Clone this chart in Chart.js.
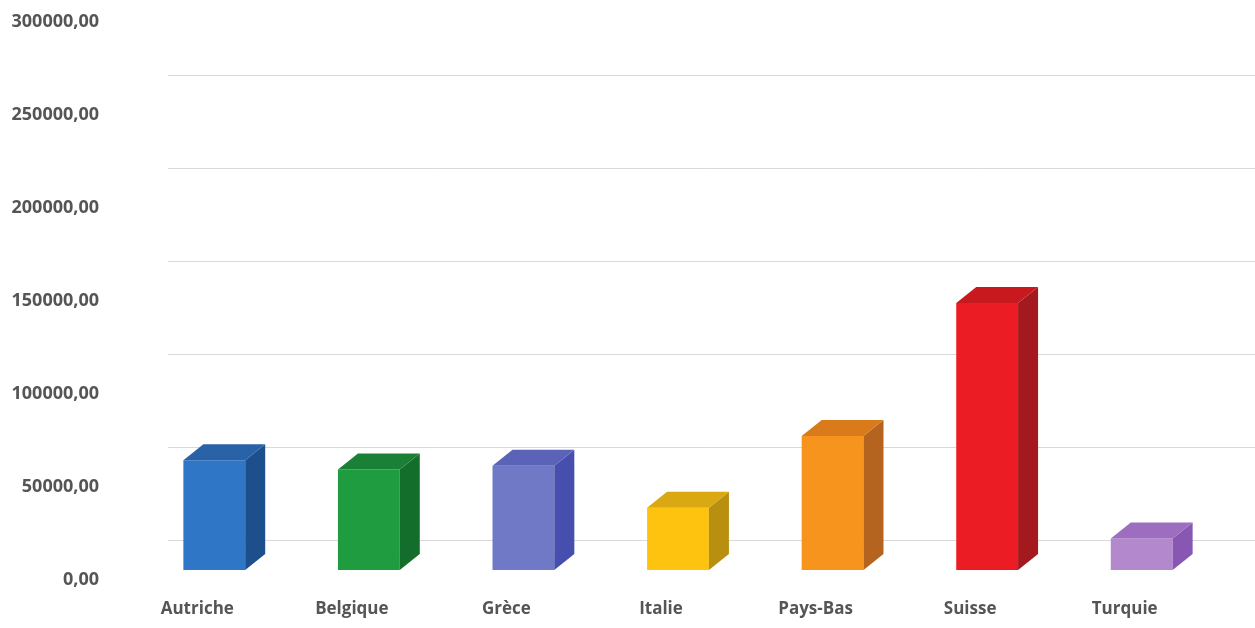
<!DOCTYPE html>
<html>
<head>
<meta charset="utf-8">
<script src="https://cdn.jsdelivr.net/npm/chart.js@4.4.1/dist/chart.umd.min.js"></script>
<style>
    body { margin: 0; background: #ffffff; }
    #wrap { width: 1255px; height: 628px; }
</style>
</head>
<body>
<div id="wrap"><canvas id="myChart" width="1255" height="628"></canvas></div>
<script>
const categories = ["Autriche", "Belgique", "Grèce", "Italie", "Pays-Bas", "Suisse", "Turquie"];
const values = [59000, 54000, 56000, 33500, 72000, 143500, 17000];
const yTicks = [0, 50000, 100000, 150000, 200000, 250000, 300000];

const frontColors = ["#2f76c6", "#1f9c40", "#6f79c6", "#fdc30f", "#f7941d", "#ec1c24", "#b488cc"];
const topColors = ["#2a62a8", "#1a8036", "#5a63b8", "#d9a812", "#d97a1b", "#c8191f", "#9d6dc0"];
const sideColors = ["#1d4f8d", "#136d2b", "#464fae", "#b98f10", "#b4641e", "#a3191e", "#8857b4"];

const DX = 20;
const DY = -16;
const GRID_SHIFT = -30;

function fmt(v) {
    return v.toFixed(2).replace(".", ",");
}

// back wall grid lines, drawn behind the bars
const backGrid = {
    id: "backGrid",
    beforeDatasetsDraw(chart) {
        const ctx = chart.ctx;
        const y = chart.scales.y;
        ctx.save();
        ctx.strokeStyle = "#d9d9d9";
        ctx.lineWidth = 1;
        yTicks.forEach((v) => {
            const py = Math.round(y.getPixelForValue(v) + GRID_SHIFT) + 0.5;
            if (py < 0) return;
            ctx.beginPath();
            ctx.moveTo(168, py);
            ctx.lineTo(chart.width, py);
            ctx.stroke();
        });
        ctx.restore();
    },
};

// top and right faces of each column
const boxFaces = {
    id: "boxFaces",
    afterDatasetsDraw(chart) {
        const ctx = chart.ctx;
        const meta = chart.getDatasetMeta(0);
        ctx.save();
        meta.data.forEach((bar, i) => {
            const l = bar.x - bar.width / 2;
            const r = bar.x + bar.width / 2;
            const t = bar.y;
            const b = bar.base;
            ctx.fillStyle = sideColors[i];
            ctx.beginPath();
            ctx.moveTo(r, t);
            ctx.lineTo(r + DX, t + DY);
            ctx.lineTo(r + DX, b + DY);
            ctx.lineTo(r, b);
            ctx.closePath();
            ctx.fill();
            ctx.fillStyle = topColors[i];
            ctx.beginPath();
            ctx.moveTo(l, t);
            ctx.lineTo(l + DX, t + DY);
            ctx.lineTo(r + DX, t + DY);
            ctx.lineTo(r, t);
            ctx.closePath();
            ctx.fill();
        });
        ctx.restore();
    },
};

function main() {
    const ctx = document.getElementById("myChart");

    new Chart(ctx, {
        type: "bar",
        data: {
            labels: categories,
            datasets: [
                {
                    data: values,
                    backgroundColor: frontColors,
                    borderWidth: 0,
                    barPercentage: 0.4,
                    categoryPercentage: 1,
                },
            ],
        },
        plugins: [backGrid, boxFaces],
        options: {
            responsive: false,
            animation: false,
            layout: { padding: { top: 12, right: 36, left: 0, bottom: 0 } },
            plugins: {
                legend: { display: false },
                tooltip: { enabled: false },
            },
            scales: {
                x: {
                    grid: { display: false, drawTicks: false },
                    border: { display: false },
                    ticks: {
                        padding: 29,
                        labelOffset: -17,
                        color: "#555555",
                        font: { family: "Open Sans", size: 17, weight: "bold" },
                    },
                    afterFit: (scale) => { scale.height = 58; },
                },
                y: {
                    min: 0,
                    max: 300000,
                    grid: { display: false, drawTicks: false },
                    border: { display: false },
                    ticks: {
                        stepSize: 50000,
                        padding: 38,
                        labelOffset: 10,
                        color: "#555555",
                        font: { family: "Open Sans", size: 18, weight: "bold" },
                        callback: (v) => fmt(v),
                    },
                    afterFit: (scale) => {
                        scale.width = 137;
                        scale.paddingTop = 0;
                        scale.paddingBottom = 0;
                    },
                },
            },
        },
    });
}

main();
</script>
</body>
</html>
